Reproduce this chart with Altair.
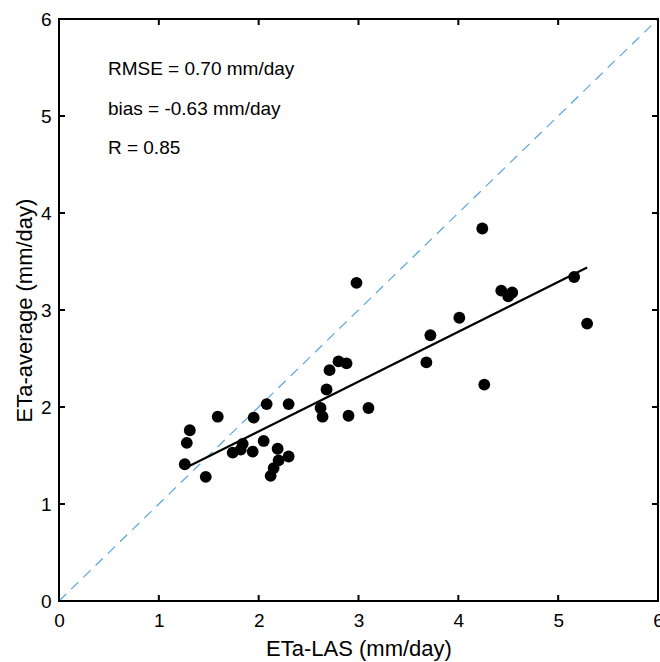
import altair as alt
import pandas as pd

# measured points (ETa-LAS, ETa-average)
las = [1.26, 1.28, 1.31, 1.47, 1.59, 1.74, 1.82, 1.84, 1.94, 1.95, 2.05, 2.08, 2.12, 2.15,
       2.19, 2.20, 2.30, 2.30, 2.62, 2.64, 2.68, 2.71, 2.80, 2.88, 2.90, 2.98, 3.10, 3.68,
       3.72, 4.01, 4.24, 4.26, 4.43, 4.50, 4.54, 5.16, 5.29]
avg = [1.41, 1.63, 1.76, 1.28, 1.90, 1.53, 1.56, 1.62, 1.54, 1.89, 1.65, 2.03, 1.29, 1.37,
       1.57, 1.45, 1.49, 2.03, 1.99, 1.90, 2.18, 2.38, 2.47, 2.45, 1.91, 3.28, 1.99, 2.46,
       2.74, 2.92, 3.84, 2.23, 3.20, 3.14, 3.18, 3.34, 2.86]

one_to_one = [0, 6]
tick_values = [0, 1, 2, 3, 4, 5, 6]
ann_text = ["RMSE = 0.70 mm/day", "bias = -0.63 mm/day", "R = 0.85"]
ann_x = [0.49, 0.49, 0.49]
ann_y = [5.42, 5.01, 4.61]

W, H = 599, 582
FONT = "Liberation Sans"

pts = pd.DataFrame({"las": las, "avg": avg})
diag = pd.DataFrame({"las": one_to_one, "avg": one_to_one})
ticks = pd.DataFrame({"v": tick_values})
ann = pd.DataFrame({"x": ann_x, "y": ann_y, "t": ann_text})

xs = alt.Scale(domain=[0, 6], nice=False, zero=False)
ys = alt.Scale(domain=[0, 6], nice=False, zero=False)

xax = alt.Axis(values=tick_values, format="d", grid=False, domain=False, ticks=False,
               labelFontSize=19, labelPadding=10, titleFontSize=22, titleFontWeight="normal",
               titlePadding=8, labelColor="black", titleColor="black", labelFont=FONT,
               titleFont=FONT, labelFlush=False, labelOverlap=False)
yax = alt.Axis(values=tick_values, format="d", grid=False, domain=False, ticks=False,
               labelFontSize=19, labelPadding=8, titleFontSize=22, titleFontWeight="normal",
               titlePadding=4, labelColor="black", titleColor="black", labelFont=FONT,
               titleFont=FONT, labelFlush=False, labelOverlap=False)

base_x = alt.X("las:Q", scale=xs, axis=xax, title="ETa-LAS (mm/day)")
base_y = alt.Y("avg:Q", scale=ys, axis=yax, title="ETa-average (mm/day)")

diag_line = alt.Chart(diag).mark_line(color="#5aa5dc", strokeWidth=1.2, strokeDash=[10, 7]).encode(
    x=base_x, y=base_y)

fit = alt.Chart(pts).transform_regression("las", "avg").mark_line(
    color="black", strokeWidth=2.2).encode(x=alt.X("las:Q", scale=xs), y=alt.Y("avg:Q", scale=ys))

points = alt.Chart(pts).mark_circle(size=140, color="black", opacity=1).encode(
    x=alt.X("las:Q", scale=xs), y=alt.Y("avg:Q", scale=ys))

texts = alt.Chart(ann).mark_text(align="left", baseline="alphabetic", fontSize=19, font=FONT,
                                 color="black").encode(
    x=alt.X("x:Q", scale=xs), y=alt.Y("y:Q", scale=ys), text="t:N")

tb = alt.Chart(ticks).mark_rule(color="black", strokeWidth=2).encode(
    x=alt.X("v:Q", scale=xs), y=alt.value(H), y2=alt.value(H - 6))
tt = alt.Chart(ticks).mark_rule(color="black", strokeWidth=2).encode(
    x=alt.X("v:Q", scale=xs), y=alt.value(0), y2=alt.value(6))
tl = alt.Chart(ticks).mark_rule(color="black", strokeWidth=2).encode(
    y=alt.Y("v:Q", scale=ys), x=alt.value(0), x2=alt.value(6))
tr = alt.Chart(ticks).mark_rule(color="black", strokeWidth=2).encode(
    y=alt.Y("v:Q", scale=ys), x=alt.value(W), x2=alt.value(W - 6))

chart = alt.layer(diag_line, fit, points, texts, tb, tt, tl, tr).properties(
    width=W, height=H,
    autosize=alt.AutoSizeParams(type="none"),
    padding={"left": 59, "top": 19, "right": 2, "bottom": 61},
    background="white",
).configure_view(stroke="black", strokeWidth=2)

chart.save("out.html", embed_options={"renderer": "svg", "actions": False})
